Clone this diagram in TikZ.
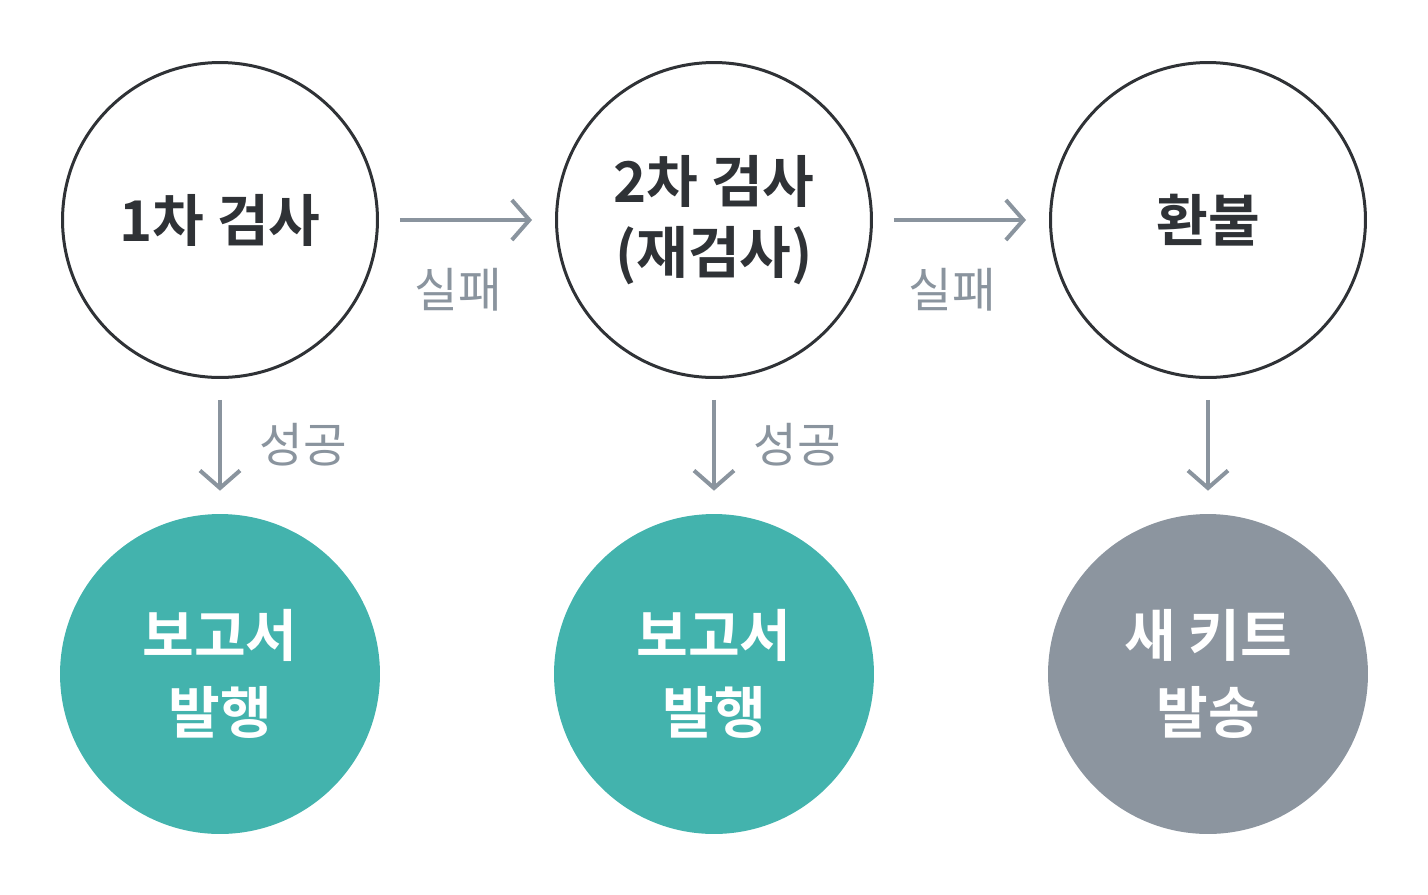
\documentclass[tikz,border=0pt]{standalone}
\usepackage{fontspec}
\newfontfamily\kr{Noto Sans CJK KR}
\newfontfamily\krb{Noto Sans CJK KR Bold}
\usetikzlibrary{arrows.meta}
\definecolor{ink}{HTML}{2F3236}
\definecolor{teal}{HTML}{43B3AD}
\definecolor{slate}{HTML}{8C959F}
\definecolor{arrowgray}{HTML}{8A949E}
\begin{document}
\begin{tikzpicture}[x=0.02cm,y=-0.02cm,
    step/.style={},
    check/.style={draw=ink, line width=0.06cm, circle, minimum size=6.3cm, inner sep=0pt,
      align=center, font=\krb\fontsize{32}{40}\selectfont, text=ink},
    done/.style={circle, minimum size=6.4cm, inner sep=0pt, align=center,
      font=\krb\fontsize{32}{44}\selectfont, text=white},
    flow/.style={draw=arrowgray, line width=0.08cm, -{Straight Barb[length=0.35cm,width=0.8cm]},
      shorten <=0.42cm, shorten >=0.46cm},
    lbl/.style={font=\kr\fontsize{27}{30}\selectfont, text=arrowgray}]
    \useasboundingbox (0,0) rectangle (1428,894);

    \node[check] (c1) at (220,220) {1차 검사};
    \node[check] (c2) at (714,220) {2차 검사\\(재검사)};
    \node[check] (c3) at (1208,220) {환불};

    \node[done, fill=teal]  (r1) at (220,674) {보고서\\발행};
    \node[done, fill=teal]  (r2) at (714,674) {보고서\\발행};
    \node[done, fill=slate] (r3) at (1208,674) {새 키트\\발송};

    % fail path
    \draw[flow] (c1) -- (c2);
    \draw[flow] (c2) -- (c3);
    \node[lbl] (f1) at (458,290) {실패};
    \node[lbl] (f2) at (952,290) {실패};

    % success path
    \foreach \n in {1,2,3} {
      \draw[flow] (c\n) -- (r\n);
    }
    \node[lbl] (s1) at (303,445) {성공};
    \node[lbl] (s2) at (797,445) {성공};
\end{tikzpicture}
\end{document}
